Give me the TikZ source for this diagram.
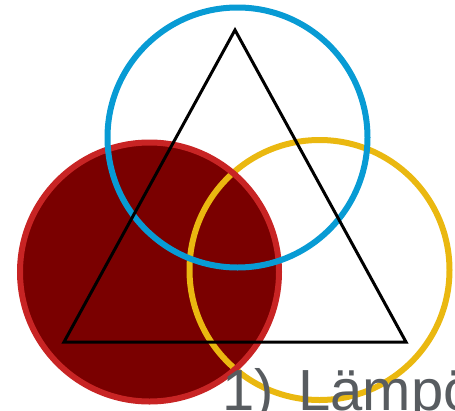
\documentclass[tikz,border=0pt]{standalone}
\usepackage{fontspec}
\setmainfont{Liberation Sans}
\definecolor{redfill}{RGB}{122,0,0}
\definecolor{redline}{RGB}{200,36,36}
\definecolor{blueline}{RGB}{8,155,212}
\definecolor{yellowline}{RGB}{234,184,16}
\definecolor{textgray}{RGB}{88,92,96}
\tikzset{
  ring/.style={line width=6pt},
  tri/.style={line width=3pt, draw=black, line join=miter},
  label/.style={font=\fontsize{58}{60}\selectfont, text=textgray, inner sep=0pt, anchor=base west}
}
\begin{document}
\begin{tikzpicture}[x=1pt,y=-1pt]
\useasboundingbox (0,0) rectangle (455,410);
\clip (0,0) rectangle (455,410);
\coordinate (rc) at (149.5,272);
\coordinate (bc) at (237.5,137.5);
\coordinate (yc) at (319.5,270);
\fill[redfill] (rc) circle[radius=129.5];
\draw[ring, yellowline] (yc) circle[radius=130];
\draw[ring, redline] (rc) circle[radius=129.5];
\draw[ring, blueline] (bc) circle[radius=130];
\coordinate (apex) at (235,30);
\coordinate (bl) at (64,342);
\coordinate (br) at (406,342);
\draw[tri] (apex) -- (bl) -- (br) -- cycle;
\node[label] (txt) at (222,410) {1)\hspace{24.5pt}Lämpö};
\end{tikzpicture}
\end{document}
